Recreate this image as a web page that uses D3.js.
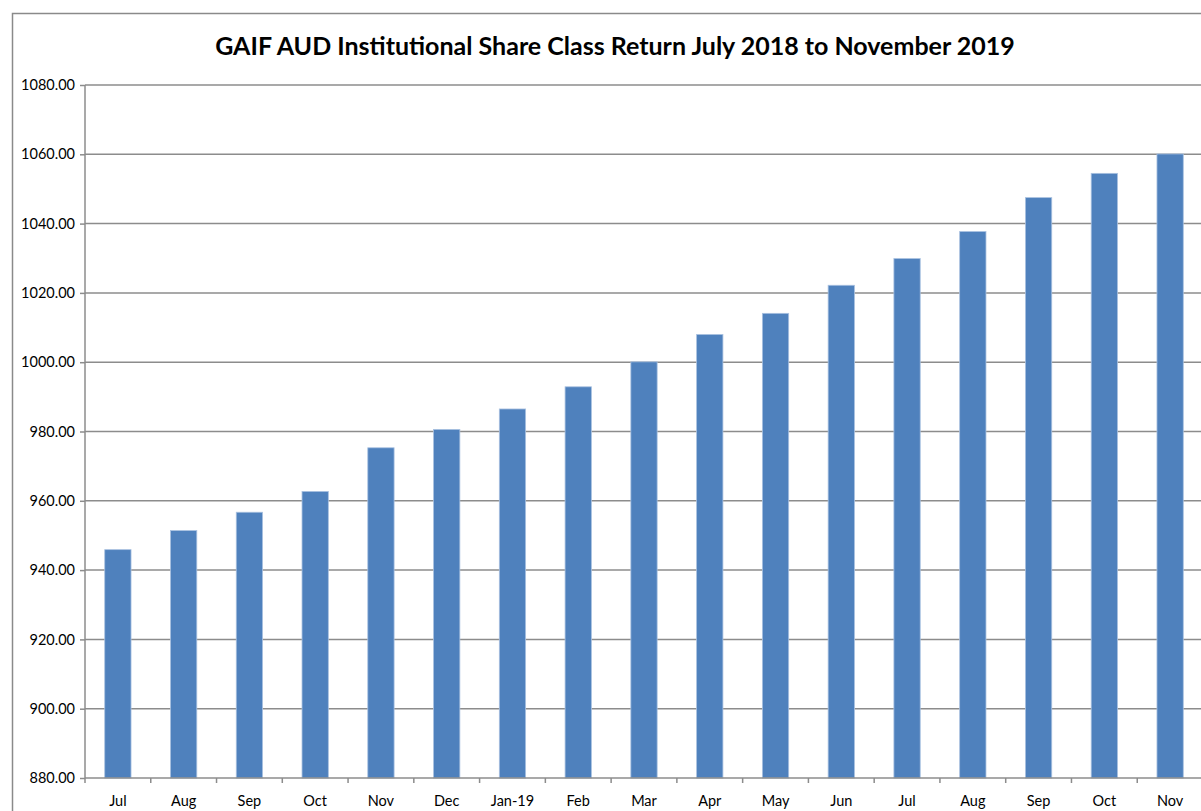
<!DOCTYPE html>
<html>
<head>
<meta charset="utf-8">
<script src="https://cdn.jsdelivr.net/npm/d3@7"></script>
<style>
  body { margin: 0; background: #fff; }
  text { font-family: Lato, "Open Sans", sans-serif; fill: #000; }
</style>
</head>
<body>
<svg id="chart" width="1201" height="811"></svg>
<script>
// months shown on the x axis
var months = ["Jul", "Aug", "Sep", "Oct", "Nov", "Dec", "Jan-19", "Feb", "Mar",
              "Apr", "May", "Jun", "Jul", "Aug", "Sep", "Oct", "Nov"];
// unit price
var prices = [945.9, 951.4, 956.7, 962.7, 975.3, 980.6, 986.5, 992.9, 1000.1,
              1008.0, 1014.1, 1022.2, 1029.9, 1037.7, 1047.5, 1054.5, 1060.1];
var yTicks = [880, 900, 920, 940, 960, 980, 1000, 1020, 1040, 1060, 1080];

var svg = d3.select("#chart");
var plotLeft = 85, plotRight = 1203, plotTop = 85, plotBottom = 778;

// outer chart border (right & bottom fall outside the frame)
svg.append("rect")
    .attr("x", 12.5).attr("y", 13.5)
    .attr("width", 1250).attr("height", 900)
    .attr("fill", "none").attr("stroke", "#8a8a8a").attr("stroke-width", 1.5);

svg.append("text")
    .attr("x", 615).attr("y", 55)
    .attr("text-anchor", "middle")
    .attr("font-size", 25).attr("font-weight", "bold")
    .text("GAIF AUD Institutional Share Class Return July 2018 to November 2019");

// index keys so the repeated month names stay separate bands
var x = d3.scaleBand()
    .domain(months.map(function (d, i) { return i; }))
    .range([plotLeft, plotRight])
    .paddingInner(0.6).paddingOuter(0.3);

var y = d3.scaleLinear().domain([880, 1080]).range([plotBottom, plotTop]);

// gridlines
svg.append("g").selectAll("line")
    .data(yTicks.slice(1))
    .enter().append("line")
    .attr("x1", plotLeft).attr("x2", plotRight)
    .attr("y1", function (d) { return y(d); })
    .attr("y2", function (d) { return y(d); })
    .attr("stroke", "#8c8c8c").attr("stroke-width", 1.5);

// bars
svg.append("g").selectAll("rect")
    .data(prices)
    .enter().append("rect")
    .attr("x", function (d, i) { return x(i); })
    .attr("width", x.bandwidth())
    .attr("y", function (d) { return y(d); })
    .attr("height", function (d) { return plotBottom - y(d); })
    .attr("fill", "#4f81bd")
    .attr("stroke", "#a9c1e0").attr("stroke-width", 0.8);

// y axis
var yAxis = svg.append("g")
    .attr("transform", "translate(" + plotLeft + ",0)")
    .call(d3.axisLeft(y).tickValues(yTicks).tickSize(5).tickPadding(5)
        .tickFormat(d3.format(".2f")));
yAxis.selectAll("line, path").attr("stroke", "#8c8c8c").attr("stroke-width", 1.5);
yAxis.select(".domain").attr("d", "M0," + plotTop + "V" + plotBottom);
yAxis.selectAll("text").attr("font-size", 14.5).attr("fill", "#000")
    .style("font-family", "Lato, sans-serif");

// x axis: ticks sit on the band boundaries
var bounds = d3.range(months.length + 1).map(function (i) {
    return plotLeft + i * (plotRight - plotLeft) / months.length;
});
var xg = svg.append("g");
xg.append("line")
    .attr("x1", plotLeft).attr("x2", plotRight)
    .attr("y1", plotBottom).attr("y2", plotBottom)
    .attr("stroke", "#8c8c8c").attr("stroke-width", 1.5);
xg.selectAll(".tk")
    .data(bounds)
    .enter().append("line")
    .attr("class", "tk")
    .attr("x1", function (d) { return d; }).attr("x2", function (d) { return d; })
    .attr("y1", plotBottom).attr("y2", plotBottom + 5)
    .attr("stroke", "#8c8c8c").attr("stroke-width", 1.5);
xg.selectAll("text")
    .data(months)
    .enter().append("text")
    .attr("x", function (d, i) { return x(i) + x.bandwidth() / 2; })
    .attr("y", 806)
    .attr("text-anchor", "middle")
    .attr("font-size", 14.5)
    .text(function (d) { return d; });
</script>
</body>
</html>
